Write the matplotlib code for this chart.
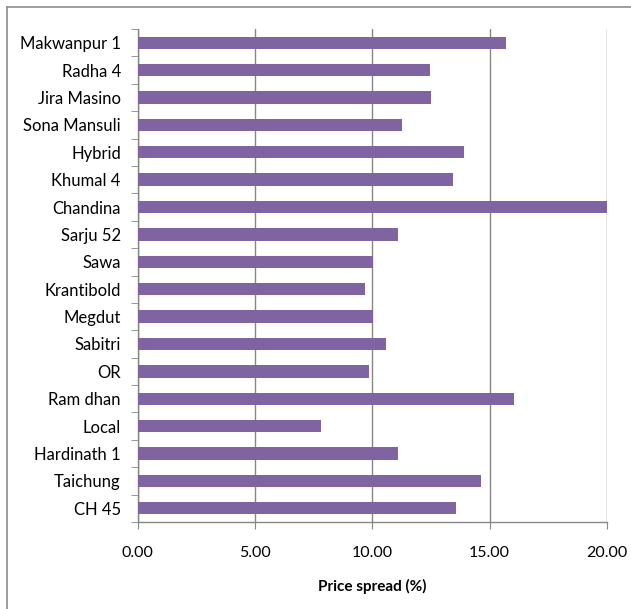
import matplotlib
matplotlib.use("Agg")
import matplotlib.pyplot as plt
from matplotlib.lines import Line2D
import numpy as np

# ─── Data (top to bottom as shown) ───────────────────────────────
varieties = ["Makwanpur 1", "Radha 4", "Jira Masino", "Sona Mansuli", "Hybrid",
             "Khumal 4", "Chandina", "Sarju 52", "Sawa", "Krantibold", "Megdut",
             "Sabitri", "OR", "Ram dhan", "Local", "Hardinath 1", "Taichung", "CH 45"]
price_spread = [15.69, 12.44, 12.49, 11.25, 13.89, 13.45, 20.00, 11.08, 10.02,
                9.67, 10.02, 10.58, 9.85, 16.04, 7.82, 11.08, 14.63, 13.57]
x_ticks = [0, 5, 10, 15, 20]

BAR_COLOR = "#8064A2"
GRID_COLOR = "#868686"

plt.rcParams["font.family"] = ["Lato", "DejaVu Sans"]

fig = plt.figure(figsize=(6.31, 6.09), dpi=100)
# outer frame: only left and top edges are visible
x0, y0 = 6.5 / 631, 1 - 6.5 / 609
fig.add_artist(Line2D([x0, x0], [0, y0], transform=fig.transFigure,
                      color="#8c8c8c", linewidth=1.2))
fig.add_artist(Line2D([x0, 1], [y0, y0], transform=fig.transFigure,
                      color="#8c8c8c", linewidth=1.2))

ax = fig.add_axes([137.5 / 631, 87 / 609, (607 - 137.5) / 631, (522 - 29) / 609])

y = np.arange(len(varieties))[::-1]
ax.barh(y, price_spread, height=0.45, color=BAR_COLOR, zorder=3)

ax.set_xlim(0, 20)
ax.set_ylim(-0.5, len(varieties) - 0.5)
ax.set_xticks(x_ticks)
ax.set_xticklabels([f"{t:.2f}" for t in x_ticks], fontsize=11.5)
ax.set_yticks(y)
ax.set_yticklabels(varieties, fontsize=12)
ax.tick_params(axis="y", length=0, pad=12)
ax.tick_params(axis="x", length=5, color=GRID_COLOR, pad=12)

# category separator ticks on the y axis
ax.set_yticks(np.arange(-0.5, len(varieties), 1.0), minor=True)
ax.tick_params(axis="y", which="minor", length=5, color=GRID_COLOR)

ax.grid(True, axis="x", color=GRID_COLOR, linewidth=1.0, zorder=0)
for s in ["top", "right"]:
    ax.spines[s].set_visible(False)
for s in ["left", "bottom"]:
    ax.spines[s].set_color(GRID_COLOR)
    ax.spines[s].set_linewidth(1.0)

ax.set_xlabel("Price spread (%)", fontsize=11, fontweight="bold", labelpad=14)

fig.savefig("out.png", dpi=100)
